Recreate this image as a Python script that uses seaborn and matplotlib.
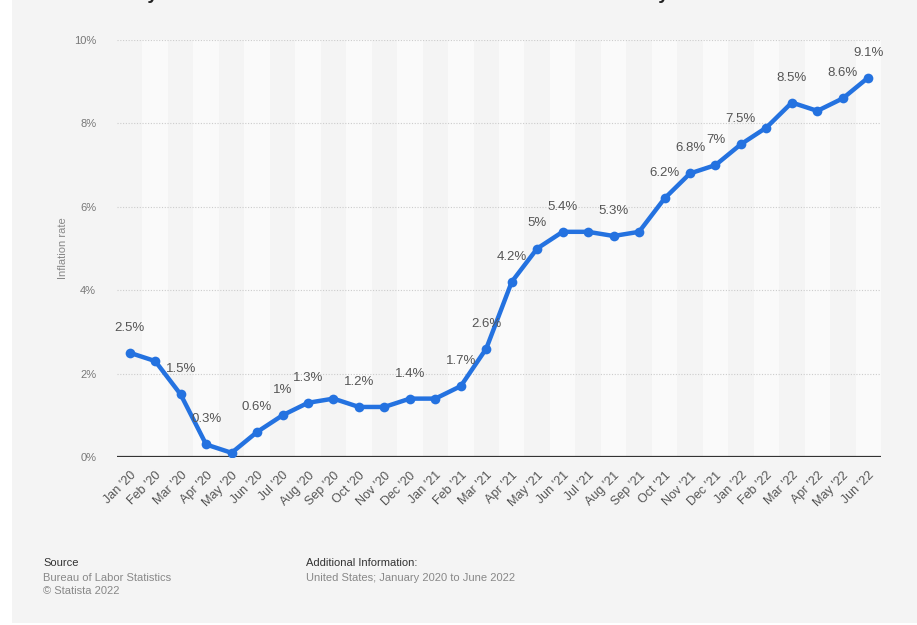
import pandas as pd
import matplotlib
matplotlib.use('Agg')
import matplotlib.pyplot as plt
from matplotlib.patches import Rectangle
import seaborn as sns

# monthly 12-month CPI inflation, US
months = ["Jan '20", "Feb '20", "Mar '20", "Apr '20", "May '20", "Jun '20",
          "Jul '20", "Aug '20", "Sep '20", "Oct '20", "Nov '20", "Dec '20",
          "Jan '21", "Feb '21", "Mar '21", "Apr '21", "May '21", "Jun '21",
          "Jul '21", "Aug '21", "Sep '21", "Oct '21", "Nov '21", "Dec '21",
          "Jan '22", "Feb '22", "Mar '22", "Apr '22", "May '22", "Jun '22"]
rates = [2.5, 2.3, 1.5, 0.3, 0.1, 0.6, 1.0, 1.3, 1.4, 1.2, 1.2, 1.4,
         1.4, 1.7, 2.6, 4.2, 5.0, 5.4, 5.4, 5.3, 5.4, 6.2, 6.8, 7.0,
         7.5, 7.9, 8.5, 8.3, 8.6, 9.1]
# which points get a value label
labelled = ["Jan '20", "Mar '20", "Apr '20", "Jun '20", "Jul '20", "Aug '20",
            "Oct '20", "Dec '20", "Feb '21", "Mar '21", "Apr '21", "May '21",
            "Jun '21", "Aug '21", "Oct '21", "Nov '21", "Dec '21", "Jan '22",
            "Mar '22", "May '22", "Jun '22"]

df = pd.DataFrame({'month': months, 'rate': rates})
df['pos'] = range(len(df))

bg = '#f4f4f4'
sns.set_style('white', {'axes.facecolor': bg, 'figure.facecolor': 'white'})
plt.rcParams['font.family'] = ['Liberation Sans', 'DejaVu Sans']

fig = plt.figure(figsize=(9.17, 6.25), dpi=100)
fig.patches.append(Rectangle((12 / 917, 2 / 625), 1, 1, transform=fig.transFigure,
                             facecolor=bg, edgecolor='none', zorder=-10))
ax = fig.add_axes([117 / 917, 1 - 457 / 625, (881 - 117) / 917, (457 - 40) / 625])

# alternating column bands
for i in range(len(df)):
    if i % 2 == 1:
        ax.axvspan(i - 0.5, i + 0.5, color='#fafafa', lw=0, zorder=0)

for y in [2, 4, 6, 8, 10]:
    ax.axhline(y, color='#cccccc', lw=0.8, ls=(0, (1, 1.5)), zorder=1)
ax.axhline(0, color='#333333', lw=1.6, zorder=2)

blue = '#2472e0'
sns.lineplot(data=df, x='pos', y='rate', ax=ax, color=blue, lw=3.2,
             marker='o', markersize=7, markeredgewidth=0, zorder=3)

for _, r in df.iterrows():
    if r['month'] in labelled:
        txt = f"{r['rate']:g}%"
        ax.annotate(txt, (r['pos'], r['rate']), xytext=(0, 18), textcoords='offset points',
                    ha='center', va='center', fontsize=9.5, color='#555555', zorder=4)

ax.set_xlim(-0.5, len(df) - 0.5)
ax.set_ylim(0, 10)
ax.set_xticks(df['pos'])
ax.set_xticklabels(df['month'], rotation=45, ha='right', rotation_mode='anchor',
                   fontsize=9, color='#555555')
ax.set_yticks([0, 2, 4, 6, 8, 10])
ax.set_yticklabels(['0%', '2%', '4%', '6%', '8%', '10%'], fontsize=8, color='#777777')
ax.tick_params(axis='x', length=0, pad=9)
ax.tick_params(axis='y', length=0, pad=15)
ax.set_xlabel('')
ax.set_ylabel('Inflation rate', fontsize=8, color='#888888', labelpad=4)
sns.despine(ax=ax, left=True, bottom=True)

fig.text(0.502, 1 + 1 / 625,
         'Monthly 12-month inflation rate in the United States from January 2020 to June 2022',
         ha='center', va='baseline', fontsize=13.5, fontweight='bold', color='#222222')

fig.text(43 / 917, 1 - 563 / 625, 'Source', fontsize=8, color='#333333', va='center')
fig.text(43 / 917, 1 - 578 / 625, 'Bureau of Labor Statistics', fontsize=8, color='#888888', va='center')
fig.text(43 / 917, 1 - 591 / 625, '© Statista 2022', fontsize=8, color='#888888', va='center')
fig.text(306 / 917, 1 - 563 / 625, 'Additional Information:', fontsize=8, color='#333333', va='center')
fig.text(306 / 917, 1 - 578 / 625, 'United States; January 2020 to June 2022', fontsize=8,
         color='#888888', va='center')

fig.savefig('out.png', dpi=100)
